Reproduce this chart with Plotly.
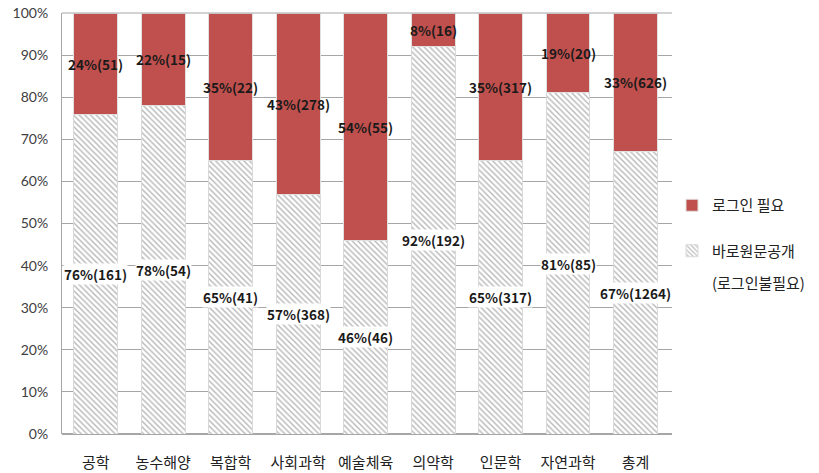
import plotly.graph_objects as go

categories = ["공학", "농수해양", "복합학", "사회과학", "예술체육", "의약학", "인문학", "자연과학", "총계"]
open_pct = [76, 78, 65, 57, 46, 92, 65, 81, 67]
open_cnt = [161, 54, 41, 368, 46, 192, 317, 85, 1264]
login_pct = [24, 22, 35, 43, 54, 8, 35, 19, 33]
login_cnt = [51, 15, 22, 278, 55, 16, 317, 20, 626]
y_ticks = [0, 10, 20, 30, 40, 50, 60, 70, 80, 90, 100]

FONT = "Noto Sans CJK KR"
RED = "#C0504D"

L, R, T, B = 62, 672, 13, 434
PW, PH = R - L, B - T

fig = go.Figure()
fig.add_trace(go.Bar(
    x=categories, y=open_pct, name="바로원문공개", legendgroup="open", legendrank=2,
    marker=dict(color="white", line=dict(color="#d9d9d9", width=1),
                pattern=dict(shape="\\", fgcolor="#707070", bgcolor="white", size=4, solidity=0.35)),
    width=0.65, hoverinfo="skip",
))
fig.add_trace(go.Bar(
    x=categories, y=login_pct, name="로그인 필요", legendgroup="login", legendrank=1,
    marker=dict(color=RED, line=dict(color="#e0e0e0", width=1)),
    width=0.65, hoverinfo="skip",
))

annotations = []
for c, op, oc, lp, lc in zip(categories, open_pct, open_cnt, login_pct, login_cnt):
    annotations.append(dict(x=c, y=op / 2, text=f"<b>{op}%({oc})</b>", showarrow=False,
                            bgcolor="white", borderpad=0,
                            font=dict(family=FONT, size=13.5, color="#1a1a1a")))
    annotations.append(dict(x=c, y=op + lp / 2, text=f"<b>{lp}%({lc})</b>", showarrow=False,
                            font=dict(family=FONT, size=13.5, color="#1a1a1a")))
annotations.append(dict(xref="paper", yref="paper", x=(710 - L) / PW, y=(B - 282) / PH,
                        xanchor="left", yanchor="middle", text="(로그인불필요)", showarrow=False,
                        font=dict(family=FONT, size=15, color="#222222")))

fig.update_layout(
    width=819, height=473,
    margin=dict(l=L, r=819 - R, t=T, b=473 - B),
    paper_bgcolor="white", plot_bgcolor="white",
    barmode="stack", bargap=0.35,
    font=dict(family=FONT, size=13, color="#333333"),
    showlegend=True,
    legend=dict(x=(672 - L) / PW, y=(B - 189) / PH, xanchor="left", yanchor="top",
                traceorder="grouped",
                tracegroupgap=23, font=dict(family=FONT, size=15, color="#222222"),
                itemwidth=30, bgcolor="rgba(0,0,0,0)"),
    annotations=annotations,
)
fig.update_xaxes(showline=False, ticks="", automargin=False,
                 tickfont=dict(family=FONT, size=15, color="#222222"),
                 ticklabelstandoff=18)
fig.update_yaxes(range=[0, 100], tickvals=y_ticks, ticktext=[f"{v}%" for v in y_ticks],
                 automargin=False,
                 showgrid=True, gridcolor="#a6a6a6", gridwidth=1,
                 showline=True, linecolor="#a6a6a6", mirror=False, zeroline=True,
                 zerolinecolor="#a6a6a6", ticks="", ticklabelstandoff=10,
                 tickfont=dict(family="Lato", size=14, color="#404040"))
fig.add_shape(type="line", xref="paper", yref="paper", x0=0, x1=1, y0=1, y1=1,
              line=dict(color="#a6a6a6", width=1))

fig.write_html("out.html", config={"displayModeBar": False},
               post_script="document.body.style.margin='0px';")
